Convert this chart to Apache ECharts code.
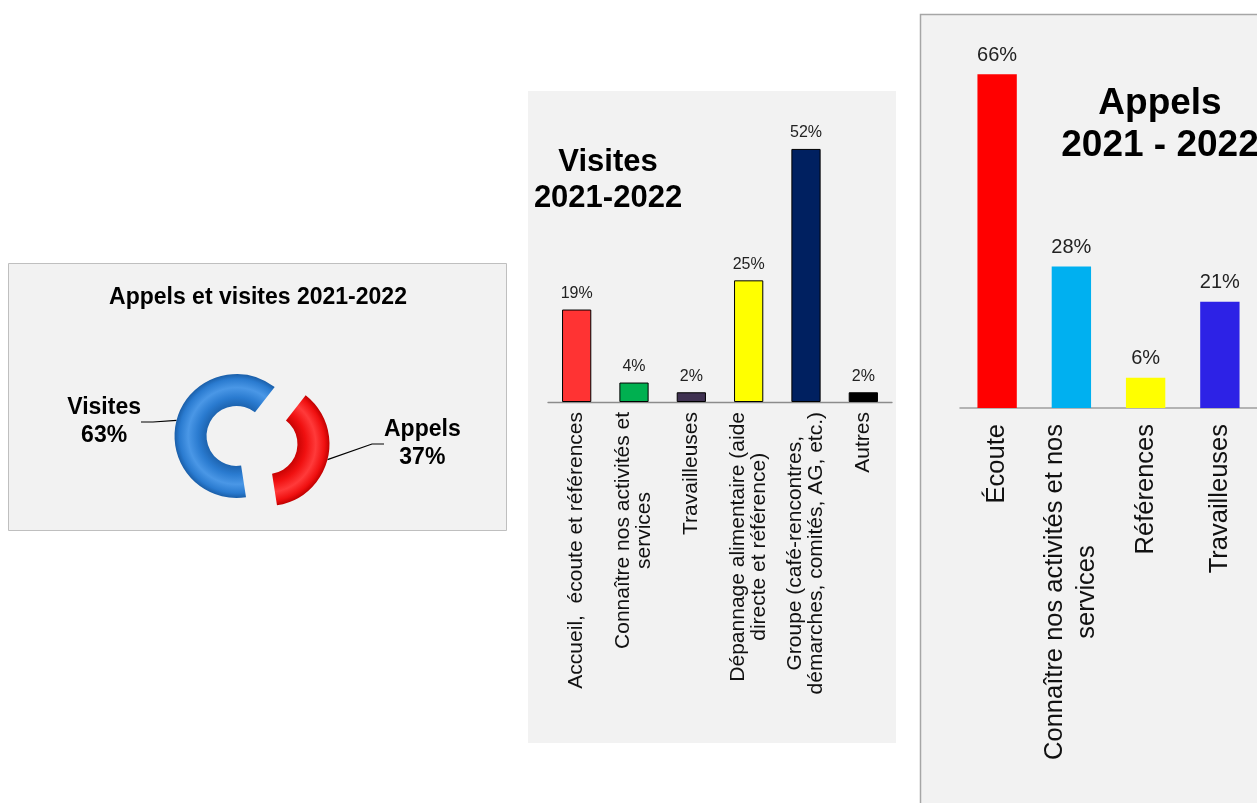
<!DOCTYPE html>
<html><head><meta charset="utf-8">
<script src="https://cdn.jsdelivr.net/npm/echarts@6/dist/echarts.min.js"></script>
<style>html,body{margin:0;padding:0;background:#fff}#c{width:1257px;height:803px}</style>
</head><body><div id="c"></div>
<script>
// ---- data ----
const pieNames = ['Appels', 'Visites'];
const pieValues = [37, 63];

const visitesCategories = [
  'Accueil,  écoute et références',
  'Connaître nos activités et\nservices',
  'Travailleuses',
  'Dépannage alimentaire (aide\ndirecte et référence)',
  'Groupe (café-rencontres,\ndémarches, comités, AG, etc.)',
  'Autres'
];
const visitesValues = [19, 4, 2, 25, 52, 2];

const appelsCategories = [
  'Écoute',
  'Connaître nos activités et nos\nservices',
  'Références',
  'Travailleuses'
];
const appelsValues = [66, 28, 6, 21];

// ---- styles ----
const FONT = '"Liberation Sans", Arial, Helvetica, sans-serif';
const visitesColors = ['#ff3333', '#00b050', '#3f3151', '#ffff00', '#002060', '#000000'];
const appelsColors = ['#ff0000', '#00b0f0', '#ffff00', '#2d22e6'];
const PIE_C = [252, 440], PIE_R = [30, 62], PIE_START = 52, EXPLODE = 16;
// callout anchor offsets from the pie centre (label placement style)
const pieLabelAnchor = [[132, 4, 'left'], [-111, -18, 'right']];

function ringGrad(cx, cy, dark, mid, light) {
  return {
    type: 'radial', x: cx, y: cy, r: PIE_R[1], global: true,
    colorStops: [
      { offset: 0.45, color: dark },
      { offset: 0.62, color: mid },
      { offset: 0.78, color: light },
      { offset: 0.92, color: mid },
      { offset: 1, color: dark }
    ]
  };
}
const pieShades = [['#c00000', '#f01010', '#ff3a3a'], ['#1a5ea8', '#2a7bd0', '#4a97e6']];

const centered = v => v.split('\n').map(s => '{c|' + s + '}').join('\n');

// exploded donut: one pie series per slice, centre pushed out along the slice's mid-angle
const pieTotal = pieValues.reduce((a, b) => a + b, 0);
const pieSeries = pieNames.map((name, i) => {
  const before = pieValues.slice(0, i).reduce((a, b) => a + b, 0);
  const mid = (PIE_START - (before + pieValues[i] / 2) / pieTotal * 360) * Math.PI / 180;
  const cx = PIE_C[0] + EXPLODE * Math.cos(mid), cy = PIE_C[1] - EXPLODE * Math.sin(mid);
  const sh = pieShades[i];
  return {
    type: 'pie', center: [cx, cy], radius: PIE_R, startAngle: PIE_START, clockwise: true,
    avoidLabelOverlap: false, silent: true,
    label: { show: true, position: 'outside', color: '#000',
      formatter: p => '{c|' + p.name + '}\n{c|' + p.value + '%}',
      rich: { c: { align: 'center', fontSize: 23, fontWeight: 'bold', lineHeight: 28, color: '#000', fontFamily: FONT } } },
    labelLine: { show: true, length: 18, length2: 12, smooth: false, lineStyle: { color: '#000', width: 1.2 } },
    labelLayout: p => {
      if (p.dataIndex !== i) return {};
      const a = pieLabelAnchor[i];
      return { x: PIE_C[0] + a[0], y: PIE_C[1] + a[1], align: a[2], verticalAlign: 'middle' };
    },
    data: pieNames.map((n, j) => j === i
      ? { name: n, value: pieValues[j], itemStyle: { color: ringGrad(cx, cy, sh[0], sh[1], sh[2]) } }
      : { name: n, value: pieValues[j], itemStyle: { color: 'rgba(0,0,0,0)' },
          label: { show: false }, labelLine: { show: false } })
  };
});

const chart = echarts.init(document.getElementById('c'), null, { renderer: 'canvas' });
chart.setOption({
  animation: false,
  backgroundColor: '#ffffff',
  textStyle: { fontFamily: FONT },
  graphic: [
    { type: 'rect', z: -10, shape: { x: 8.5, y: 263.5, width: 498, height: 267 },
      style: { fill: '#f2f2f2', stroke: '#bfbfbf', lineWidth: 1 } },
    { type: 'rect', z: -10, shape: { x: 528, y: 91, width: 368, height: 652 },
      style: { fill: '#f2f2f2' } },
    { type: 'rect', z: -10, shape: { x: 920.5, y: 14.5, width: 400, height: 820 },
      style: { fill: '#f2f2f2', stroke: '#a6a6a6', lineWidth: 1.5 } }
  ],
  title: [
    { text: 'Appels et visites 2021-2022', left: 258, top: 286, textAlign: 'center', padding: 0,
      textStyle: { fontFamily: FONT, fontSize: 23, fontWeight: 'bold', color: '#000' } },
    { text: 'Visites\n2021-2022', left: 608, top: 144, textAlign: 'center', padding: 0,
      textStyle: { fontFamily: FONT, fontSize: 31, fontWeight: 'bold', color: '#000', lineHeight: 36 } },
    { text: 'Appels\n2021 - 2022', left: 1160, top: 83, textAlign: 'center', padding: 0,
      textStyle: { fontFamily: FONT, fontSize: 37, fontWeight: 'bold', color: '#000', lineHeight: 42 } }
  ],
  grid: [
    { left: 548, width: 344, top: 110, height: 292, containLabel: false },
    { left: 960, width: 302, top: 54, height: 354, containLabel: false }
  ],
  xAxis: [
    { type: 'category', gridIndex: 0, data: visitesCategories,
      axisLine: { lineStyle: { color: '#8c8c8c', width: 1.3 } },
      axisTick: { length: 6, lineStyle: { color: '#8c8c8c', width: 1.3 } },
      axisLabel: { interval: 0, rotate: 90, margin: 10, color: '#111', fontSize: 21, fontFamily: FONT,
        formatter: centered,
        rich: { c: { align: 'center', fontSize: 21, lineHeight: 21, fontFamily: FONT, color: '#111' } } } },
    { type: 'category', gridIndex: 1, data: appelsCategories,
      axisLine: { lineStyle: { color: '#9e9e9e', width: 1.5 } },
      axisTick: { length: 7, lineStyle: { color: '#9e9e9e', width: 1.5 } },
      axisLabel: { interval: 0, rotate: 90, margin: 16, color: '#111', fontSize: 25.5, fontFamily: FONT,
        formatter: centered,
        rich: { c: { align: 'center', fontSize: 25.5, lineHeight: 32, fontFamily: FONT, color: '#111' } } } }
  ],
  yAxis: [
    { type: 'value', gridIndex: 0, min: 0, max: 60, show: false, splitLine: { show: false } },
    { type: 'value', gridIndex: 1, min: 0, max: 70, show: false, splitLine: { show: false } }
  ],
  series: [
    { type: 'bar', xAxisIndex: 0, yAxisIndex: 0, barWidth: '51%',
      data: visitesValues.map((v, i) => ({ value: v, itemStyle: { color: visitesColors[i] } })),
      itemStyle: { borderColor: '#000', borderWidth: 1 },
      label: { show: true, position: 'top', distance: 8, formatter: '{c}%', fontSize: 16, color: '#222', fontFamily: FONT } },
    { type: 'bar', xAxisIndex: 1, yAxisIndex: 1, barWidth: '53%',
      data: appelsValues.map((v, i) => ({ value: v, itemStyle: { color: appelsColors[i] } })),
      label: { show: true, position: 'top', distance: 9, formatter: '{c}%', fontSize: 20, color: '#222', fontFamily: FONT } }
  ].concat(pieSeries)
});
</script></body></html>
